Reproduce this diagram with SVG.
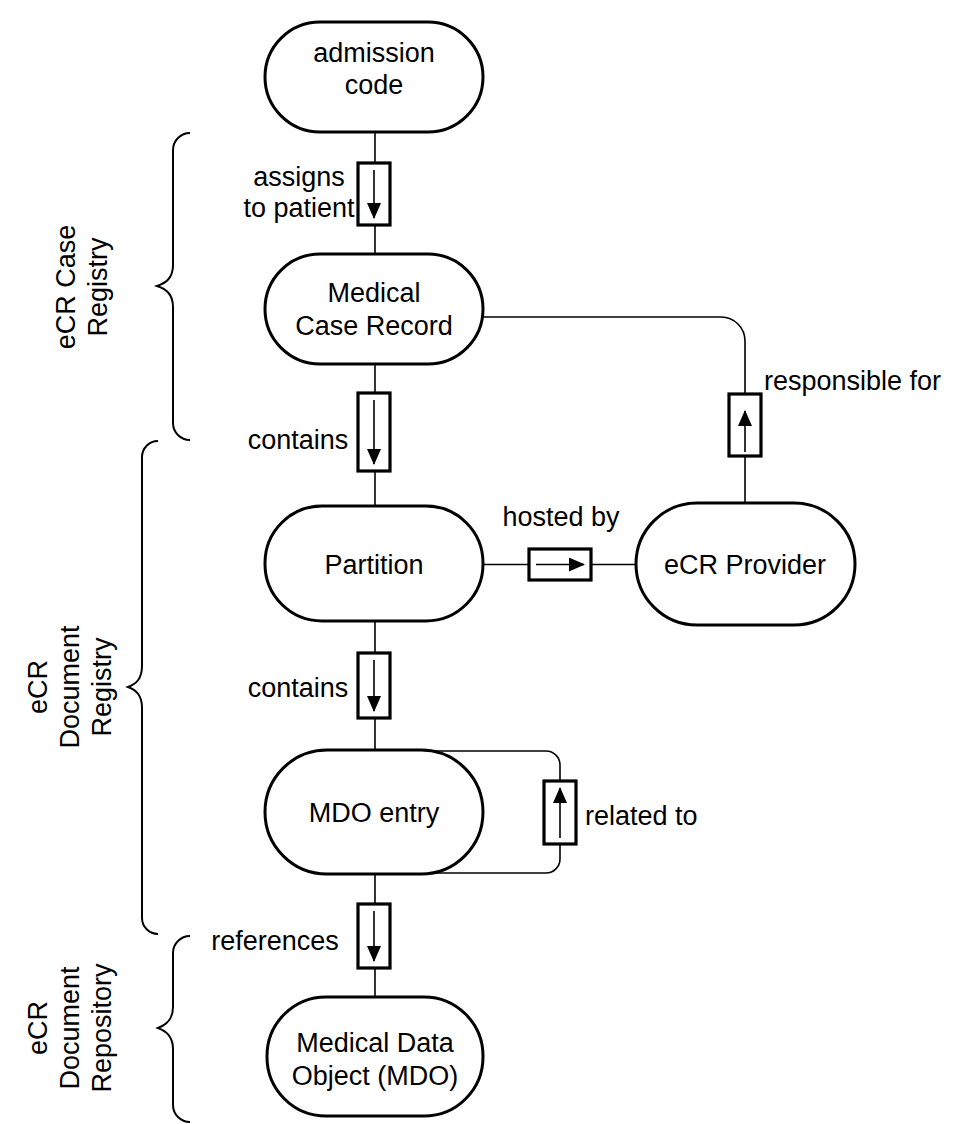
<svg xmlns="http://www.w3.org/2000/svg" width="958" height="1124" viewBox="0 0 958 1124">
<defs>
<style>
.node{fill:#fff;stroke:#000;stroke-width:3}
.t{font-family:"Liberation Sans",Arial,sans-serif;font-size:27px;fill:#000}
.c{text-anchor:middle}
.line{fill:none;stroke:#000;stroke-width:1.6}
.box{fill:#fff;stroke:#000;stroke-width:3.2}
.brace{fill:none;stroke:#000;stroke-width:2}
</style>
<marker id="ah" viewBox="0 0 16 14" refX="15" refY="7" markerWidth="16" markerHeight="14" markerUnits="userSpaceOnUse" orient="auto">
<path d="M0,0 L16,7 L0,14 Z" fill="#000"/>
</marker>
</defs>
<rect width="958" height="1124" fill="#fff"/>

<g id="connectors">
<line class="line" x1="375" y1="132" x2="375" y2="254"/>
<line class="line" x1="375" y1="364" x2="375" y2="506"/>
<line class="line" x1="375" y1="621" x2="375" y2="750"/>
<line class="line" x1="375" y1="874" x2="375" y2="997"/>
<path class="line" d="M483,317 H721 A24,24 0 0 1 745,341 V503"/>
<line class="line" x1="483" y1="564.5" x2="636" y2="564.5"/>
<path class="line" d="M420,751 H546 A14,14 0 0 1 560,765 V859 A14,14 0 0 1 546,873 H420"/>

<rect class="box" x="358" y="163" width="32" height="62"/>
<line class="line" x1="374" y1="170" x2="374" y2="218" marker-end="url(#ah)"/>

<rect class="box" x="358" y="393" width="32" height="78"/>
<line class="line" x1="374" y1="400" x2="374" y2="464" marker-end="url(#ah)"/>

<rect class="box" x="358" y="653" width="32" height="65"/>
<line class="line" x1="374" y1="660" x2="374" y2="711" marker-end="url(#ah)"/>

<rect class="box" x="358" y="904" width="32" height="64"/>
<line class="line" x1="374" y1="911" x2="374" y2="961" marker-end="url(#ah)"/>

<rect class="box" x="729" y="394" width="32" height="62"/>
<line class="line" x1="745" y1="452" x2="745" y2="411" marker-end="url(#ah)"/>

<rect class="box" x="529" y="549" width="62" height="31"/>
<line class="line" x1="536" y1="564.5" x2="584" y2="564.5" marker-end="url(#ah)"/>

<rect class="box" x="544" y="781" width="32" height="63"/>
<line class="line" x1="560" y1="838" x2="560" y2="788" marker-end="url(#ah)"/>

<text class="t c" x="299" y="186">assigns</text>
<text class="t c" x="299" y="217">to patient</text>
<text class="t c" x="298" y="449">contains</text>
<text class="t c" x="298" y="697">contains</text>
<text class="t c" x="275" y="950">references</text>
<text class="t c" x="561" y="526">hosted by</text>
<text class="t" x="764" y="390">responsible for</text>
<text class="t" x="585" y="825">related to</text>
</g>

<g id="n_admission">
<rect class="node" x="265" y="22" width="218" height="110" rx="55" ry="55"/>
<text class="t c" x="374" y="62">admission</text>
<text class="t c" x="374" y="94">code</text>
</g>
<g id="n_mcr">
<rect class="node" x="265" y="254" width="218" height="110" rx="55" ry="55"/>
<text class="t c" x="374" y="302">Medical</text>
<text class="t c" x="374" y="335">Case Record</text>
</g>
<g id="n_partition">
<rect class="node" x="265" y="506" width="218" height="115" rx="57" ry="57"/>
<text class="t c" x="374" y="574">Partition</text>
</g>
<g id="n_provider">
<rect class="node" x="636" y="503" width="219" height="122" rx="61" ry="61"/>
<text class="t c" x="745" y="574">eCR Provider</text>
</g>
<g id="n_mdoentry">
<rect class="node" x="265" y="750" width="218" height="124" rx="62" ry="62"/>
<text class="t c" x="374" y="822">MDO entry</text>
</g>
<g id="n_mdo">
<rect class="node" x="267" y="997" width="216" height="119" rx="59" ry="59"/>
<text class="t c" x="375" y="1052">Medical Data</text>
<text class="t c" x="375" y="1085">Object (MDO)</text>
</g>

<g id="brace1">
<path class="brace" d="M190,133 A17,17 0 0 0 173,150 V265 C173,278 166,283 157,286 C166,289 173,294 173,307 V423 A17,17 0 0 0 190,440"/>
<text class="t c" transform="translate(75,287) rotate(-90)">eCR Case</text>
<text class="t c" transform="translate(107,287) rotate(-90)">Registry</text>
</g>
<g id="brace2">
<path class="brace" d="M158,441 A16,16 0 0 0 142,457 V666 C142,679 136,684 128,687 C136,690 142,695 142,708 V918 A16,16 0 0 0 158,934"/>
<text class="t c" transform="translate(47,687) rotate(-90)">eCR</text>
<text class="t c" transform="translate(79,687) rotate(-90)">Document</text>
<text class="t c" transform="translate(111,687) rotate(-90)">Registry</text>
</g>
<g id="brace3">
<path class="brace" d="M190,936 A17,17 0 0 0 173,953 V1007 C173,1020 166,1025 158,1028 C166,1031 173,1036 173,1049 V1105 A17,17 0 0 0 190,1122"/>
<text class="t c" transform="translate(47,1028) rotate(-90)">eCR</text>
<text class="t c" transform="translate(79,1028) rotate(-90)">Document</text>
<text class="t c" transform="translate(111,1028) rotate(-90)">Repository</text>
</g>
</svg>
